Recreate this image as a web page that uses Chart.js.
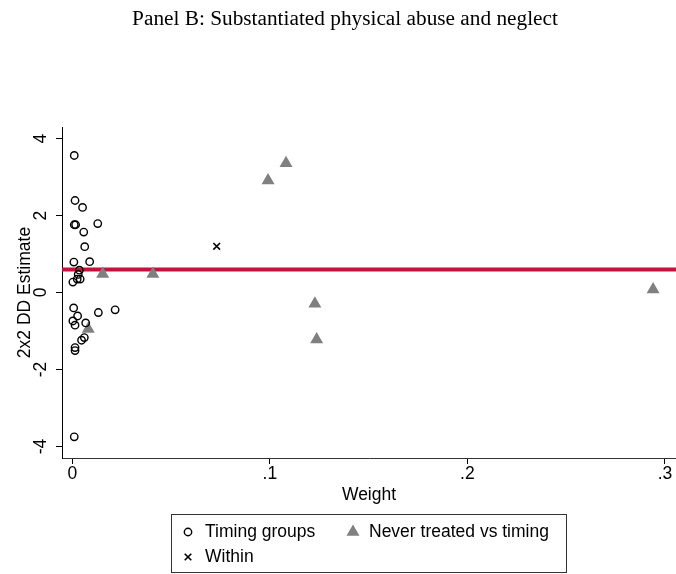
<!DOCTYPE html>
<html>
<head>
<meta charset="utf-8">
<script src="https://cdn.jsdelivr.net/npm/chart.js@4.4.1/dist/chart.umd.min.js"></script>
<style>
  html, body { margin: 0; padding: 0; background: #fff; }
  #wrap { width: 676px; height: 574px; position: relative; }
</style>
</head>
<body>
<div id="wrap"><canvas id="ddChart"></canvas></div>
<script>
// 資料：權重與 2x2 DD 估計值
const timingWeights = [0.0010, 0.0014, 0.0052, 0.0010, 0.0017, 0.0129, 0.0058, 0.0063, 0.0008, 0.0088,
  0.0036, 0.0030, 0.0025, 0.0003, 0.0040, 0.0007, 0.0027, 0.0003, 0.0014, 0.0068,
  0.0132, 0.0217, 0.0061, 0.0047, 0.0014, 0.0014, 0.0010];
const timingEstimates = [3.56, 2.39, 2.21, 1.76, 1.76, 1.79, 1.57, 1.19, 0.79, 0.80,
  0.58, 0.47, 0.35, 0.27, 0.35, -0.40, -0.61, -0.74, -0.85, -0.79,
  -0.52, -0.45, -1.17, -1.24, -1.43, -1.51, -3.75];
const neverWeights = [0.0154, 0.0408, 0.0081, 0.1082, 0.0991, 0.1228, 0.1237, 0.2940];
const neverEstimates = [0.48, 0.48, -0.95, 3.36, 2.91, -0.29, -1.22, 0.08];
const withinWeights = [0.0731];
const withinEstimates = [1.20];
const ddOverall = 0.60;

const xTicks = [0, 0.1, 0.2, 0.3];
const yTicks = [-4, -2, 0, 2, 4];
const xRange = [-0.0052, 0.3056];
const yRange = [-4.3, 4.3];

const SANS = "'Liberation Sans', Arial, sans-serif";
const SERIF = "'Liberation Serif', 'Times New Roman', serif";

const toPoints = (xs, ys) => xs.map((x, i) => ({ x: x, y: ys[i] }));
const fmtTick = v => v === 0 ? '0' : String(v).replace(/^0/, '');

// 自訂：標題、旋轉的 y 軸刻度文字、圖例框
const extrasPlugin = {
  id: 'extras',
  afterDraw(chart) {
    const ctx = chart.ctx;
    const yScale = chart.scales.y;
    ctx.save();

    // 標題
    ctx.fillStyle = '#000';
    ctx.font = '21.3px ' + SERIF;
    ctx.textAlign = 'center';
    ctx.textBaseline = 'middle';
    ctx.fillText('Panel B: Substantiated physical abuse and neglect', 345, 19);

    ctx.font = '17.5px ' + SANS;
    yScale.ticks.forEach(t => {
      ctx.save();
      ctx.translate(41, yScale.getPixelForValue(t.value));
      ctx.rotate(-Math.PI / 2);
      ctx.fillText(String(t.value), 0, 0);
      ctx.restore();
    });

    // 圖例
    ctx.strokeStyle = '#333';
    ctx.lineWidth = 1;
    ctx.strokeRect(171.5, 514.5, 395, 58);

    ctx.lineWidth = 1.4;
    ctx.strokeStyle = '#000';
    ctx.beginPath();
    ctx.arc(188, 532, 3.7, 0, Math.PI * 2);
    ctx.stroke();

    ctx.fillStyle = '#808080';
    const r = 7.5, tx = 353, ty = 532;
    ctx.beginPath();
    ctx.moveTo(tx, ty - r);
    ctx.lineTo(tx + r * Math.sqrt(3) / 2, ty + r / 2);
    ctx.lineTo(tx - r * Math.sqrt(3) / 2, ty + r / 2);
    ctx.closePath();
    ctx.fill();

    ctx.lineWidth = 1.6;
    const c = 3.3;
    ctx.beginPath();
    ctx.moveTo(188 - c, 557 - c); ctx.lineTo(188 + c, 557 + c);
    ctx.moveTo(188 + c, 557 - c); ctx.lineTo(188 - c, 557 + c);
    ctx.stroke();

    ctx.fillStyle = '#000';
    ctx.textAlign = 'left';
    ctx.fillText('Timing groups', 205, 532);
    ctx.fillText('Never treated vs timing', 369, 532);
    ctx.fillText('Within', 205, 557);
    ctx.restore();
  }
};

new Chart(document.getElementById('ddChart'), {
  type: 'scatter',
  data: {
    datasets: [
      {
        label: 'Timing groups',
        data: toPoints(timingWeights, timingEstimates),
        pointStyle: 'circle',
        pointRadius: 3.7,
        pointBorderWidth: 1.4,
        borderColor: '#000',
        backgroundColor: 'rgba(0,0,0,0)'
      },
      {
        label: 'Never treated vs timing',
        data: toPoints(neverWeights, neverEstimates),
        pointStyle: 'triangle',
        pointRadius: 7.5,
        pointBorderWidth: 0,
        borderColor: 'rgba(0,0,0,0)',
        backgroundColor: '#808080'
      },
      {
        label: 'Within',
        data: toPoints(withinWeights, withinEstimates),
        pointStyle: 'crossRot',
        pointRadius: 4.7,
        pointBorderWidth: 1.6,
        borderColor: '#000'
      },
      {
        label: 'DD',
        type: 'line',
        data: [{ x: xRange[0], y: ddOverall }, { x: xRange[1], y: ddOverall }],
        borderColor: '#c8103e',
        borderWidth: 4,
        pointRadius: 0
      }
    ]
  },
  options: {
    responsive: true,
    maintainAspectRatio: false,
    animation: false,
    events: [],
    layout: { autoPadding: false, padding: { left: 0, right: 0, top: 127, bottom: 66 } },
    plugins: {
      legend: { display: false },
      tooltip: { enabled: false },
      title: { display: false }
    },
    scales: {
      x: {
        type: 'linear',
        min: xRange[0],
        max: xRange[1],
        afterBuildTicks: s => { s.ticks = xTicks.map(v => ({ value: v })); },
        afterFit: s => { s.height = 50; s.paddingLeft = 0; s.paddingRight = 0; },
        grid: { drawOnChartArea: false, drawTicks: true, tickLength: 6, color: '#000' },
        border: { display: true, color: '#333', width: 1 },
        ticks: {
          color: '#000',
          padding: 0,
          maxRotation: 0,
          font: { family: SANS, size: 17.5 },
          callback: v => fmtTick(v)
        },
        title: {
          display: true,
          text: 'Weight',
          color: '#000',
          font: { family: SANS, size: 17.5 },
          padding: { top: 0, bottom: 2.5 }
        }
      },
      y: {
        type: 'linear',
        min: yRange[0],
        max: yRange[1],
        afterBuildTicks: s => { s.ticks = yTicks.map(v => ({ value: v })); },
        afterFit: s => { s.width = 62; s.paddingTop = 0; s.paddingBottom = 0; },
        grid: { drawOnChartArea: false, drawTicks: true, tickLength: 6, color: '#000' },
        border: { display: true, color: '#000', width: 1 },
        ticks: { display: false },
        title: {
          display: true,
          text: '2x2 DD Estimate',
          color: '#000',
          font: { family: SANS, size: 17.5 },
          padding: { top: 14.5, bottom: 0 }
        }
      }
    }
  },
  plugins: [extrasPlugin]
});
</script>
</body>
</html>
